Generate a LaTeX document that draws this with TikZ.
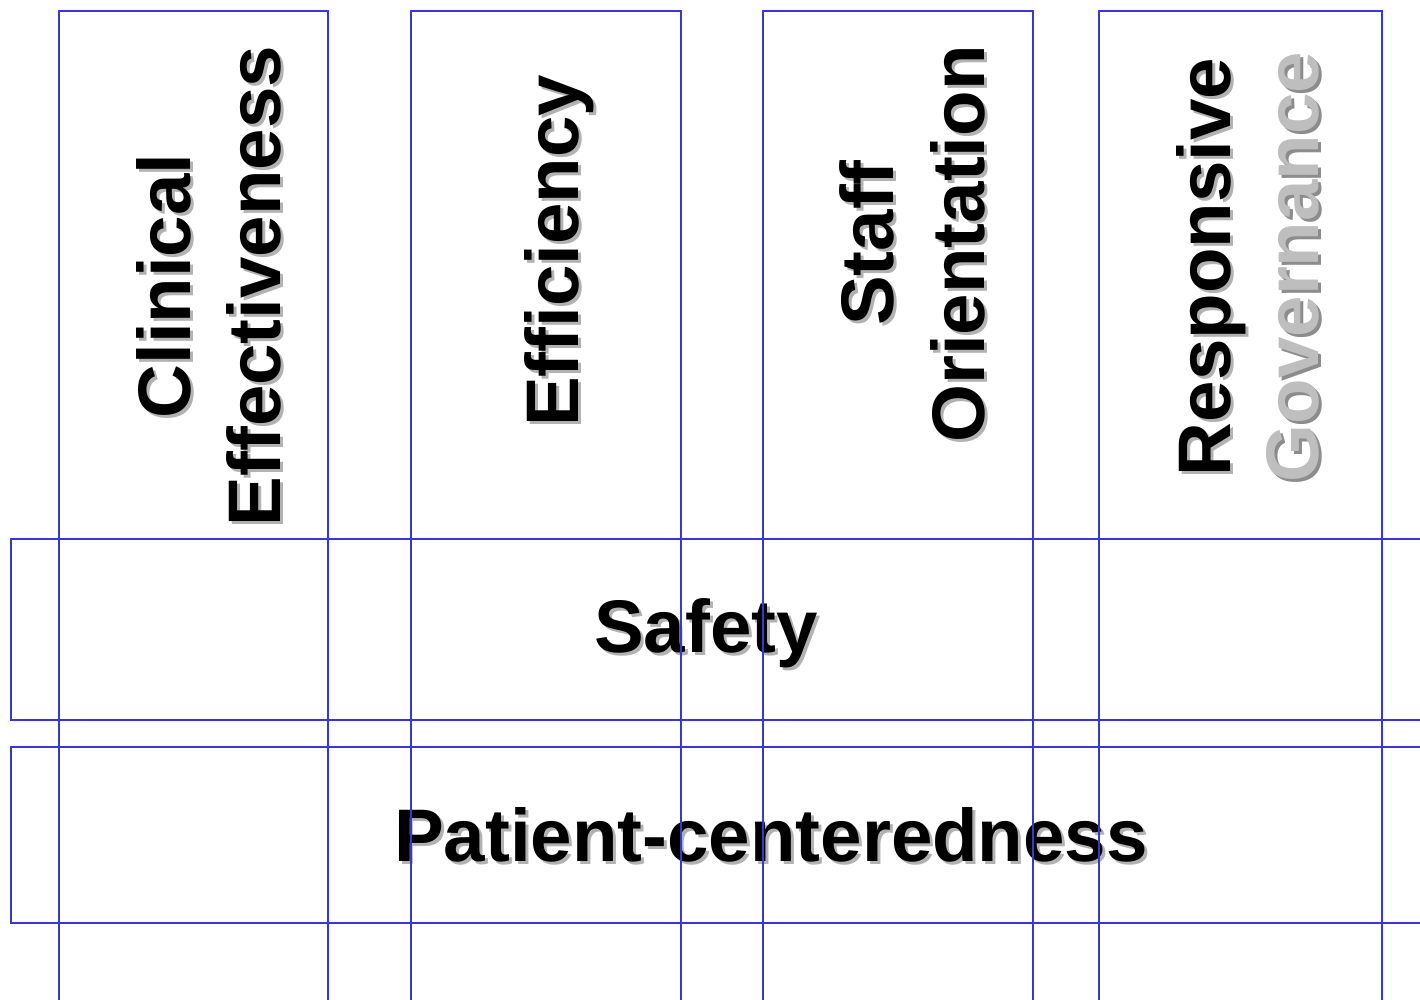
\documentclass[tikz,border=0pt]{standalone}
\usepackage{fontspec}
\setmainfont{Liberation Sans}
\definecolor{frameblue}{RGB}{56,56,208}
\definecolor{shadowgray}{RGB}{178,178,178}
\definecolor{govgray}{RGB}{190,190,190}
\definecolor{govshadow}{RGB}{140,140,140}
% shadowed text: #1 shadow colour, #2 text colour, #3 x shift (text frame), #4 text
\newcommand{\shtext}[4]{\rlap{\hspace*{#3}\raisebox{-3pt}{\color{#1}#4}}{\color{#2}#4}}
\tikzset{
  frame/.style={draw=frameblue, line width=2.3pt},
  lbl/.style={inner sep=0pt, anchor=base, font=\fontsize{74.5}{88}\selectfont\bfseries},
  vlbl/.style={lbl, rotate=90},
}
\begin{document}
\begin{tikzpicture}[x=1pt,y=-1pt]
\useasboundingbox (0,0) rectangle (1420,999);
\clip (0,0) rectangle (1420,999);
% texts
\node[vlbl] (cl) at (190,286) {\shtext{shadowgray}{black}{-3pt}{Clinical}};
\node[vlbl] (ef) at (280,286) {\shtext{shadowgray}{black}{-3pt}{Effectiveness}};
\node[vlbl] (eff) at (578,251) {\shtext{shadowgray}{black}{-3pt}{Efficiency}};
\node[vlbl] (st) at (893,243) {\shtext{shadowgray}{black}{-3pt}{Staff}};
\node[vlbl] (or) at (984,244) {\shtext{shadowgray}{black}{-3pt}{Orientation}};
\node[vlbl] (re) at (1230,267) {\shtext{shadowgray}{black}{-3pt}{Responsive}};
\node[vlbl] (go) at (1318,267) {\shtext{govshadow}{govgray}{-3pt}{Governance}};
\node[lbl] (sa) at (706,652) {\shtext{shadowgray}{black}{3pt}{Safety}};
\node[lbl] (pc) at (771,861) {\shtext{shadowgray}{black}{3pt}{Patient-centeredness}};
% frames
\draw[frame] (59,11) rectangle (328,1010);
\draw[frame] (411,11) rectangle (681,1010);
\draw[frame] (763,11) rectangle (1033,1010);
\draw[frame] (1099,11) rectangle (1382,1010);
\draw[frame] (11,539) rectangle (1430,720);
\draw[frame] (11,747) rectangle (1430,923);
\end{tikzpicture}
\end{document}
